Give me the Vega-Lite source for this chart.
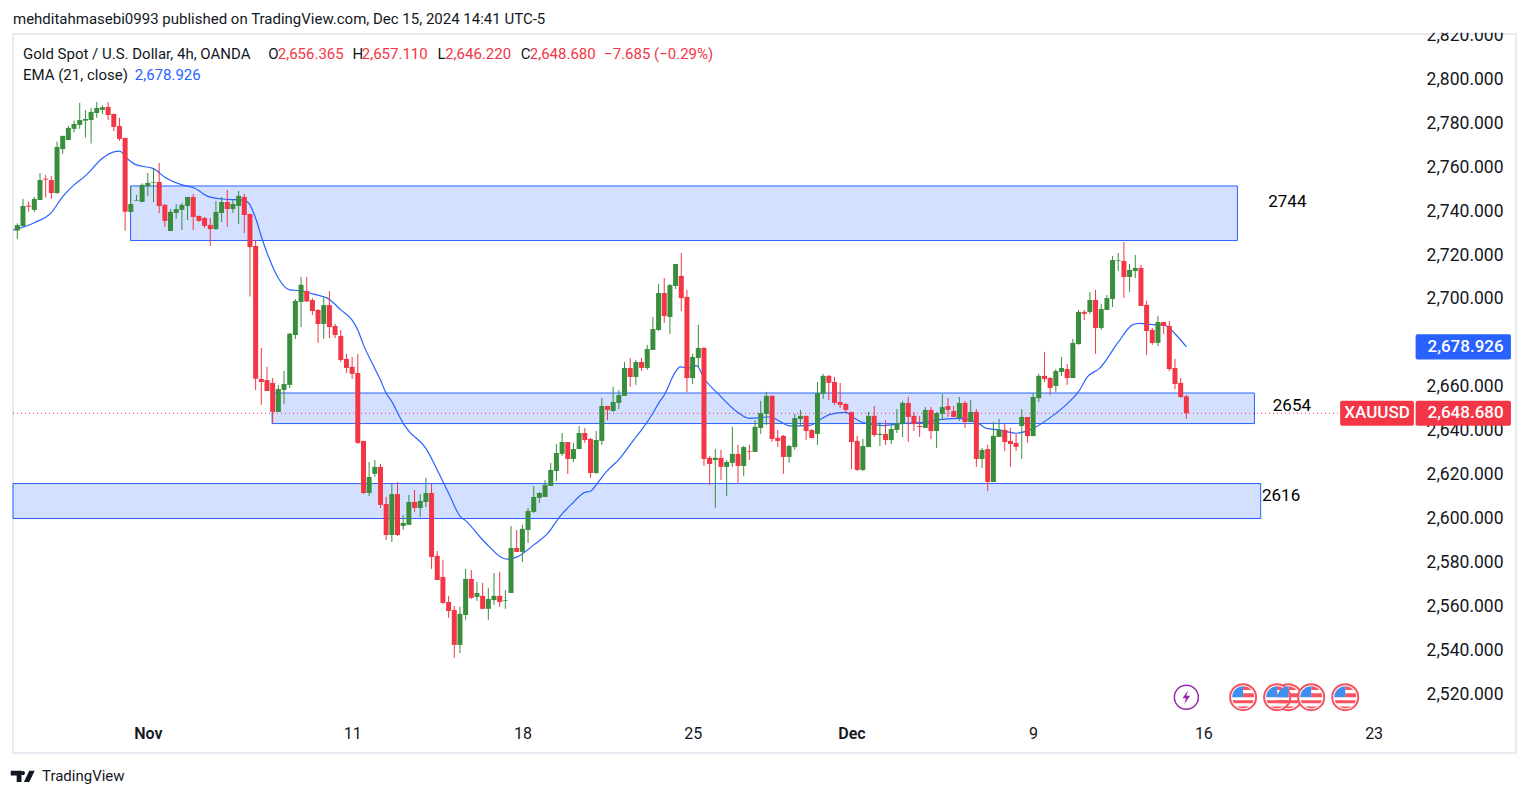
{"$schema":"https://vega.github.io/schema/vega-lite/v6.json","width":1503,"height":719,"autosize":"none","padding":{"left":13,"top":34,"right":13,"bottom":45},"background":"#ffffff","view":{"stroke":"#e9ebf2","strokeWidth":2},
"datasets":{
"candles":[
{"i":0,"d":"up","o":2731.8,"h":2735.1,"l":2728.0,"c":2734.3},{"i":1,"d":"up","o":2733.9,"h":2746.2,"l":2733.6,"c":2743.0},{"i":2,"d":"down","o":2743.2,"h":2745.0,"l":2740.4,"c":2742.7},{"i":3,"d":"up","o":2741.2,"h":2747.1,"l":2740.3,"c":2746.2},{"i":4,"d":"up","o":2745.7,"h":2758.0,"l":2745.7,"c":2754.8},{"i":5,"d":"down","o":2755.4,"h":2757.1,"l":2746.8,"c":2755.0},{"i":6,"d":"down","o":2754.8,"h":2756.7,"l":2746.2,"c":2748.9},{"i":7,"d":"up","o":2748.9,"h":2772.3,"l":2748.5,"c":2769.9},{"i":8,"d":"up","o":2768.9,"h":2774.9,"l":2766.7,"c":2774.9},{"i":9,"d":"up","o":2773.0,"h":2779.4,"l":2773.0,"c":2778.5},
{"i":10,"d":"up","o":2778.1,"h":2781.8,"l":2776.5,"c":2780.3},{"i":11,"d":"up","o":2779.9,"h":2789.9,"l":2778.1,"c":2782.1},{"i":12,"d":"up","o":2781.8,"h":2786.7,"l":2774.1,"c":2782.6},{"i":13,"d":"up","o":2782.1,"h":2787.6,"l":2771.4,"c":2785.8},{"i":14,"d":"up","o":2785.3,"h":2790.3,"l":2783.1,"c":2787.6},{"i":15,"d":"up","o":2786.7,"h":2788.8,"l":2784.9,"c":2787.9},{"i":16,"d":"down","o":2788.1,"h":2790.3,"l":2782.1,"c":2784.4},{"i":17,"d":"down","o":2784.9,"h":2784.9,"l":2777.1,"c":2779.0},{"i":18,"d":"down","o":2779.4,"h":2783.1,"l":2772.6,"c":2773.5},{"i":19,"d":"down","o":2774.0,"h":2774.0,"l":2731.8,"c":2740.4},
{"i":20,"d":"up","o":2740.3,"h":2751.8,"l":2740.3,"c":2743.9},{"i":21,"d":"up","o":2745.4,"h":2748.0,"l":2745.4,"c":2745.7},{"i":22,"d":"up","o":2744.8,"h":2753.3,"l":2744.8,"c":2752.6},{"i":23,"d":"up","o":2752.0,"h":2758.0,"l":2747.6,"c":2753.5},{"i":24,"d":"up","o":2753.6,"h":2760.3,"l":2744.8,"c":2753.9},{"i":25,"d":"down","o":2753.9,"h":2762.6,"l":2739.8,"c":2743.0},{"i":26,"d":"down","o":2743.5,"h":2743.9,"l":2733.4,"c":2736.2},{"i":27,"d":"up","o":2731.6,"h":2741.6,"l":2731.6,"c":2740.3},{"i":28,"d":"up","o":2739.8,"h":2743.9,"l":2737.1,"c":2741.6},{"i":29,"d":"up","o":2741.2,"h":2744.4,"l":2732.1,"c":2743.5},
{"i":30,"d":"up","o":2743.0,"h":2747.1,"l":2736.6,"c":2747.1},{"i":31,"d":"down","o":2747.1,"h":2748.5,"l":2732.1,"c":2738.0},{"i":32,"d":"down","o":2738.5,"h":2738.5,"l":2735.7,"c":2736.2},{"i":33,"d":"down","o":2737.5,"h":2738.0,"l":2733.0,"c":2733.9},{"i":34,"d":"down","o":2734.4,"h":2737.5,"l":2724.8,"c":2732.5},{"i":35,"d":"up","o":2732.5,"h":2745.3,"l":2732.1,"c":2740.3},{"i":36,"d":"up","o":2739.8,"h":2747.1,"l":2735.7,"c":2744.8},{"i":37,"d":"down","o":2744.8,"h":2750.3,"l":2733.4,"c":2741.6},{"i":38,"d":"up","o":2741.6,"h":2745.7,"l":2739.8,"c":2743.9},{"i":39,"d":"up","o":2743.0,"h":2749.8,"l":2734.8,"c":2747.6},
{"i":40,"d":"down","o":2747.1,"h":2748.5,"l":2730.7,"c":2738.9},{"i":41,"d":"down","o":2739.4,"h":2739.4,"l":2701.8,"c":2724.3},{"i":42,"d":"down","o":2724.8,"h":2727.5,"l":2659.3,"c":2664.4},{"i":43,"d":"down","o":2664.3,"h":2678.4,"l":2652.5,"c":2662.9},{"i":44,"d":"down","o":2663.8,"h":2669.8,"l":2658.8,"c":2658.8},{"i":45,"d":"down","o":2662.5,"h":2664.7,"l":2644.0,"c":2649.3},{"i":46,"d":"up","o":2649.3,"h":2661.6,"l":2649.3,"c":2659.7},{"i":47,"d":"up","o":2659.3,"h":2667.9,"l":2652.9,"c":2662.0},{"i":48,"d":"up","o":2661.6,"h":2685.2,"l":2660.2,"c":2684.9},{"i":49,"d":"up","o":2684.3,"h":2700.7,"l":2682.5,"c":2699.8},
{"i":50,"d":"up","o":2699.3,"h":2710.7,"l":2687.9,"c":2707.1},{"i":51,"d":"down","o":2704.3,"h":2710.7,"l":2699.3,"c":2699.6},{"i":52,"d":"down","o":2700.2,"h":2701.1,"l":2693.4,"c":2695.2},{"i":53,"d":"down","o":2695.7,"h":2696.1,"l":2680.7,"c":2689.3},{"i":54,"d":"up","o":2689.3,"h":2701.6,"l":2682.5,"c":2697.9},{"i":55,"d":"down","o":2697.9,"h":2704.3,"l":2682.9,"c":2687.9},{"i":56,"d":"down","o":2688.4,"h":2689.3,"l":2682.9,"c":2684.3},{"i":57,"d":"down","o":2683.9,"h":2686.6,"l":2672.0,"c":2672.9},{"i":58,"d":"down","o":2673.4,"h":2675.7,"l":2667.0,"c":2669.3},{"i":59,"d":"down","o":2669.8,"h":2674.3,"l":2664.3,"c":2666.6},
{"i":60,"d":"down","o":2667.0,"h":2675.7,"l":2634.7,"c":2635.2},{"i":61,"d":"down","o":2636.1,"h":2636.1,"l":2611.9,"c":2612.4},{"i":62,"d":"up","o":2612.4,"h":2626.5,"l":2611.0,"c":2619.7},{"i":63,"d":"up","o":2621.1,"h":2627.4,"l":2619.7,"c":2624.3},{"i":64,"d":"down","o":2624.3,"h":2625.6,"l":2605.6,"c":2607.0},{"i":65,"d":"down","o":2607.4,"h":2610.6,"l":2591.0,"c":2593.3},{"i":66,"d":"up","o":2593.3,"h":2616.5,"l":2590.1,"c":2611.9},{"i":67,"d":"down","o":2611.9,"h":2617.4,"l":2592.9,"c":2593.3},{"i":68,"d":"up","o":2597.4,"h":2602.4,"l":2595.6,"c":2598.8},{"i":69,"d":"up","o":2597.9,"h":2611.5,"l":2597.9,"c":2608.3},
{"i":70,"d":"down","o":2608.3,"h":2613.8,"l":2603.8,"c":2605.6},{"i":71,"d":"up","o":2605.6,"h":2611.9,"l":2601.5,"c":2608.8},{"i":72,"d":"up","o":2608.3,"h":2619.3,"l":2606.0,"c":2612.4},{"i":73,"d":"down","o":2612.4,"h":2616.5,"l":2577.9,"c":2583.3},{"i":74,"d":"down","o":2583.8,"h":2586.0,"l":2572.8,"c":2572.8},{"i":75,"d":"down","o":2574.2,"h":2582.0,"l":2561.9,"c":2562.4},{"i":76,"d":"down","o":2562.8,"h":2565.6,"l":2555.6,"c":2558.7},{"i":77,"d":"down","o":2559.2,"h":2561.0,"l":2537.4,"c":2543.3},{"i":78,"d":"up","o":2543.3,"h":2560.6,"l":2539.6,"c":2557.4},{"i":79,"d":"up","o":2556.9,"h":2577.9,"l":2554.7,"c":2573.3},
{"i":80,"d":"down","o":2573.3,"h":2577.4,"l":2564.2,"c":2564.7},{"i":81,"d":"up","o":2565.1,"h":2571.9,"l":2563.3,"c":2566.9},{"i":82,"d":"down","o":2565.6,"h":2571.5,"l":2559.7,"c":2559.7},{"i":83,"d":"up","o":2559.7,"h":2569.2,"l":2554.7,"c":2564.2},{"i":84,"d":"up","o":2563.7,"h":2576.0,"l":2561.5,"c":2565.6},{"i":85,"d":"down","o":2565.6,"h":2576.5,"l":2560.6,"c":2562.8},{"i":86,"d":"up","o":2563.4,"h":2568.3,"l":2559.7,"c":2563.7},{"i":87,"d":"up","o":2566.9,"h":2597.4,"l":2566.9,"c":2587.4},{"i":88,"d":"down","o":2587.4,"h":2595.6,"l":2585.6,"c":2585.6},{"i":89,"d":"up","o":2585.6,"h":2597.9,"l":2581.0,"c":2596.1},
{"i":90,"d":"up","o":2595.6,"h":2605.6,"l":2589.7,"c":2604.2},{"i":91,"d":"up","o":2603.8,"h":2615.6,"l":2603.3,"c":2610.6},{"i":92,"d":"up","o":2610.2,"h":2612.9,"l":2607.9,"c":2612.4},{"i":93,"d":"up","o":2610.6,"h":2618.3,"l":2610.6,"c":2616.1},{"i":94,"d":"up","o":2615.6,"h":2626.1,"l":2615.6,"c":2622.9},{"i":95,"d":"up","o":2622.4,"h":2634.7,"l":2617.9,"c":2630.6},{"i":96,"d":"up","o":2630.2,"h":2639.7,"l":2629.3,"c":2635.6},{"i":97,"d":"down","o":2635.6,"h":2635.6,"l":2621.1,"c":2627.9},{"i":98,"d":"up","o":2627.9,"h":2635.2,"l":2626.5,"c":2632.4},{"i":99,"d":"up","o":2632.4,"h":2642.9,"l":2632.4,"c":2639.7},
{"i":100,"d":"down","o":2639.7,"h":2642.0,"l":2635.2,"c":2636.5},{"i":101,"d":"down","o":2637.0,"h":2637.5,"l":2619.3,"c":2621.5},{"i":102,"d":"up","o":2621.5,"h":2640.6,"l":2621.1,"c":2636.5},{"i":103,"d":"up","o":2636.1,"h":2655.6,"l":2634.3,"c":2652.0},{"i":104,"d":"down","o":2652.0,"h":2652.0,"l":2645.6,"c":2650.2},{"i":105,"d":"up","o":2649.7,"h":2660.7,"l":2649.3,"c":2653.8},{"i":106,"d":"up","o":2653.4,"h":2659.3,"l":2650.6,"c":2657.0},{"i":107,"d":"up","o":2656.6,"h":2672.0,"l":2656.6,"c":2669.3},{"i":108,"d":"down","o":2669.3,"h":2673.8,"l":2660.7,"c":2665.2},{"i":109,"d":"up","o":2665.2,"h":2672.9,"l":2661.6,"c":2672.0},
{"i":110,"d":"down","o":2672.0,"h":2673.8,"l":2667.9,"c":2669.3},{"i":111,"d":"up","o":2669.3,"h":2679.8,"l":2668.4,"c":2677.9},{"i":112,"d":"up","o":2677.5,"h":2692.5,"l":2677.5,"c":2687.0},{"i":113,"d":"up","o":2686.6,"h":2707.5,"l":2686.1,"c":2703.4},{"i":114,"d":"down","o":2703.4,"h":2710.2,"l":2689.8,"c":2692.9},{"i":115,"d":"up","o":2692.5,"h":2707.5,"l":2684.8,"c":2707.0},{"i":116,"d":"up","o":2706.6,"h":2716.6,"l":2705.2,"c":2716.6},{"i":117,"d":"down","o":2711.2,"h":2721.6,"l":2695.2,"c":2701.1},{"i":118,"d":"down","o":2701.6,"h":2704.8,"l":2658.4,"c":2664.7},{"i":119,"d":"up","o":2664.7,"h":2675.7,"l":2662.0,"c":2674.3},
{"i":120,"d":"up","o":2673.8,"h":2688.9,"l":2669.3,"c":2678.4},{"i":121,"d":"down","o":2678.4,"h":2678.9,"l":2624.7,"c":2627.9},{"i":122,"d":"down","o":2628.4,"h":2629.3,"l":2616.1,"c":2625.6},{"i":123,"d":"up","o":2627.4,"h":2632.4,"l":2605.6,"c":2628.4},{"i":124,"d":"down","o":2628.4,"h":2632.0,"l":2618.3,"c":2624.3},{"i":125,"d":"up","o":2624.3,"h":2627.4,"l":2611.1,"c":2626.5},{"i":126,"d":"up","o":2626.1,"h":2642.5,"l":2624.3,"c":2630.2},{"i":127,"d":"down","o":2630.2,"h":2634.3,"l":2617.0,"c":2624.7},{"i":128,"d":"up","o":2624.7,"h":2633.8,"l":2620.1,"c":2633.3},{"i":129,"d":"down","o":2631.5,"h":2634.3,"l":2627.4,"c":2631.2},
{"i":130,"d":"up","o":2631.1,"h":2645.6,"l":2631.1,"c":2642.5},{"i":131,"d":"up","o":2642.0,"h":2654.3,"l":2639.3,"c":2648.8},{"i":132,"d":"up","o":2648.4,"h":2658.4,"l":2643.4,"c":2656.6},{"i":133,"d":"down","o":2656.6,"h":2657.0,"l":2635.6,"c":2637.0},{"i":134,"d":"down","o":2637.5,"h":2641.1,"l":2633.4,"c":2636.1},{"i":135,"d":"down","o":2638.4,"h":2638.8,"l":2621.1,"c":2628.8},{"i":136,"d":"up","o":2628.8,"h":2634.3,"l":2626.1,"c":2633.8},{"i":137,"d":"up","o":2633.3,"h":2648.4,"l":2632.0,"c":2646.5},{"i":138,"d":"up","o":2646.1,"h":2650.2,"l":2642.9,"c":2647.5},{"i":139,"d":"down","o":2647.5,"h":2647.5,"l":2636.5,"c":2640.6},
{"i":140,"d":"down","o":2641.1,"h":2641.5,"l":2637.4,"c":2637.4},{"i":141,"d":"up","o":2639.3,"h":2662.9,"l":2634.3,"c":2657.8},{"i":142,"d":"up","o":2657.5,"h":2666.6,"l":2655.2,"c":2665.7},{"i":143,"d":"down","o":2665.7,"h":2666.1,"l":2654.7,"c":2662.5},{"i":144,"d":"down","o":2662.9,"h":2665.2,"l":2652.5,"c":2653.4},{"i":145,"d":"down","o":2653.8,"h":2662.5,"l":2651.1,"c":2652.5},{"i":146,"d":"down","o":2652.9,"h":2653.4,"l":2648.8,"c":2650.2},{"i":147,"d":"down","o":2649.3,"h":2649.3,"l":2623.3,"c":2635.6},{"i":148,"d":"down","o":2636.1,"h":2638.4,"l":2622.4,"c":2622.9},{"i":149,"d":"up","o":2622.9,"h":2637.0,"l":2622.4,"c":2633.8},
{"i":150,"d":"up","o":2633.3,"h":2649.3,"l":2633.3,"c":2647.5},{"i":151,"d":"down","o":2647.5,"h":2652.0,"l":2637.9,"c":2638.8},{"i":152,"d":"up","o":2638.8,"h":2644.7,"l":2633.8,"c":2639.3},{"i":153,"d":"down","o":2639.3,"h":2645.6,"l":2634.3,"c":2636.5},{"i":154,"d":"up","o":2636.5,"h":2643.4,"l":2634.7,"c":2641.5},{"i":155,"d":"up","o":2641.1,"h":2650.6,"l":2639.7,"c":2644.1},{"i":156,"d":"up","o":2643.8,"h":2654.3,"l":2637.9,"c":2653.4},{"i":157,"d":"down","o":2653.4,"h":2656.1,"l":2635.6,"c":2647.0},{"i":158,"d":"down","o":2647.5,"h":2649.3,"l":2640.6,"c":2643.8},{"i":159,"d":"down","o":2642.9,"h":2647.5,"l":2637.9,"c":2642.4},
{"i":160,"d":"up","o":2642.0,"h":2651.5,"l":2642.0,"c":2650.2},{"i":161,"d":"down","o":2650.2,"h":2651.5,"l":2637.0,"c":2640.6},{"i":162,"d":"up","o":2640.6,"h":2649.3,"l":2632.9,"c":2648.8},{"i":163,"d":"up","o":2648.4,"h":2657.5,"l":2645.6,"c":2651.5},{"i":164,"d":"down","o":2652.0,"h":2655.6,"l":2647.0,"c":2650.2},{"i":165,"d":"down","o":2649.7,"h":2652.0,"l":2647.0,"c":2647.0},{"i":166,"d":"up","o":2646.5,"h":2656.1,"l":2645.2,"c":2653.4},{"i":167,"d":"down","o":2653.4,"h":2654.3,"l":2642.0,"c":2644.7},{"i":168,"d":"up","o":2644.7,"h":2654.7,"l":2644.7,"c":2649.3},{"i":169,"d":"down","o":2649.3,"h":2650.6,"l":2624.3,"c":2627.9},
{"i":170,"d":"up","o":2627.9,"h":2632.9,"l":2623.8,"c":2632.0},{"i":171,"d":"down","o":2632.4,"h":2634.3,"l":2613.3,"c":2617.4},{"i":172,"d":"up","o":2617.4,"h":2644.7,"l":2617.4,"c":2638.4},{"i":173,"d":"up","o":2637.9,"h":2646.1,"l":2637.9,"c":2641.1},{"i":174,"d":"down","o":2641.1,"h":2643.8,"l":2631.5,"c":2635.6},{"i":175,"d":"down","o":2636.1,"h":2642.0,"l":2624.3,"c":2634.7},{"i":176,"d":"down","o":2635.2,"h":2639.3,"l":2631.5,"c":2633.4},{"i":177,"d":"up","o":2642.9,"h":2650.6,"l":2627.9,"c":2647.0},{"i":178,"d":"down","o":2647.0,"h":2647.0,"l":2635.2,"c":2638.3},{"i":179,"d":"up","o":2638.3,"h":2657.9,"l":2638.3,"c":2656.1},
{"i":180,"d":"up","o":2655.6,"h":2666.6,"l":2653.8,"c":2665.7},{"i":181,"d":"down","o":2665.7,"h":2676.6,"l":2662.9,"c":2664.3},{"i":182,"d":"down","o":2664.7,"h":2665.2,"l":2657.0,"c":2660.2},{"i":183,"d":"up","o":2661.1,"h":2668.8,"l":2658.4,"c":2667.9},{"i":184,"d":"up","o":2667.5,"h":2674.3,"l":2665.7,"c":2669.3},{"i":185,"d":"down","o":2668.8,"h":2671.1,"l":2661.6,"c":2664.7},{"i":186,"d":"up","o":2664.7,"h":2682.5,"l":2664.7,"c":2680.7},{"i":187,"d":"up","o":2680.2,"h":2695.7,"l":2679.8,"c":2694.8},{"i":188,"d":"down","o":2694.8,"h":2695.7,"l":2691.1,"c":2693.9},{"i":189,"d":"up","o":2694.8,"h":2703.9,"l":2693.9,"c":2700.2},
{"i":190,"d":"down","o":2700.2,"h":2704.8,"l":2675.7,"c":2687.5},{"i":191,"d":"up","o":2687.5,"h":2698.4,"l":2686.6,"c":2696.1},{"i":192,"d":"up","o":2695.7,"h":2702.5,"l":2695.7,"c":2701.1},{"i":193,"d":"up","o":2700.7,"h":2720.2,"l":2697.0,"c":2718.4},{"i":194,"d":"up","o":2718.1,"h":2721.6,"l":2713.4,"c":2718.4},{"i":195,"d":"down","o":2718.0,"h":2726.6,"l":2701.1,"c":2710.7},{"i":196,"d":"up","o":2710.7,"h":2716.6,"l":2703.9,"c":2713.9},{"i":197,"d":"up","o":2713.4,"h":2720.7,"l":2710.2,"c":2714.8},{"i":198,"d":"down","o":2714.8,"h":2716.2,"l":2697.5,"c":2697.5},{"i":199,"d":"down","o":2698.0,"h":2699.8,"l":2675.2,"c":2686.1},
{"i":200,"d":"down","o":2686.6,"h":2687.5,"l":2679.8,"c":2680.7},{"i":201,"d":"up","o":2680.7,"h":2693.0,"l":2679.3,"c":2690.2},{"i":202,"d":"down","o":2690.2,"h":2690.2,"l":2684.8,"c":2688.4},{"i":203,"d":"down","o":2688.4,"h":2690.7,"l":2667.9,"c":2668.8},{"i":204,"d":"down","o":2669.3,"h":2673.4,"l":2659.7,"c":2662.0},{"i":205,"d":"down","o":2662.5,"h":2664.7,"l":2655.6,"c":2656.1},{"i":206,"d":"down","o":2656.365,"h":2657.11,"l":2646.22,"c":2648.68}],
"ema":[{"i":-0.7,"v":2732.1},{"i":3,"v":2735.4},{"i":6,"v":2740.0},{"i":8,"v":2747.3},{"i":10,"v":2752.6},{"i":12,"v":2756.7},{"i":15,"v":2764.7},{"i":17,"v":2767.6},{"i":18,"v":2768.0},{"i":19.5,"v":2764.3},{"i":21,"v":2761.7},{"i":24,"v":2760.0},{"i":26,"v":2756.1},{"i":29,"v":2752.6},{"i":31,"v":2751.4},{"i":34,"v":2747.0},{"i":37,"v":2746.0},{"i":40,"v":2745.7},{"i":41,"v":2743.5},{"i":42,"v":2737.4},{"i":43.2,"v":2727.5},{"i":44.5,"v":2718.4},{"i":46,"v":2710.1},{"i":48,"v":2704.8},{"i":50,"v":2704.5},{"i":52,"v":2703.0},{"i":55,"v":2700.5},{"i":57,"v":2695.7},{"i":59,"v":2691.1},{"i":60,"v":2686.6},{"i":61,"v":2679.8},{"i":63,"v":2669.1},{"i":64,"v":2663.8},{"i":65,"v":2657.8},{"i":66,"v":2654.0},{"i":68,"v":2644.1},{"i":69,"v":2640.6},{"i":72,"v":2632.7},{"i":74,"v":2622.9},{"i":76,"v":2612.3},{"i":78,"v":2601.9},{"i":79.2,"v":2599.4},{"i":81.5,"v":2592.5},{"i":83.2,"v":2587.9},{"i":85.6,"v":2582.7},{"i":86.5,"v":2582.3},{"i":88,"v":2583.2},{"i":91,"v":2588.8},{"i":93.5,"v":2594.1},{"i":95.6,"v":2601.7},{"i":97.7,"v":2607.4},{"i":100,"v":2612.7},{"i":101,"v":2613.2},{"i":102,"v":2616.1},{"i":103.8,"v":2622.1},{"i":106.2,"v":2628.2},{"i":108.6,"v":2636.5},{"i":110,"v":2641.1},{"i":112,"v":2648.7},{"i":113,"v":2653.2},{"i":114,"v":2657.0},{"i":116,"v":2667.6},{"i":116.8,"v":2669.8},{"i":118.6,"v":2669.3},{"i":119.7,"v":2670.4},{"i":121,"v":2664.6},{"i":123.6,"v":2657.3},{"i":126.8,"v":2649.4},{"i":129,"v":2646.4},{"i":131,"v":2646.7},{"i":132.7,"v":2647.1},{"i":134.4,"v":2644.9},{"i":136.2,"v":2642.9},{"i":139.7,"v":2643.2},{"i":141.4,"v":2645.6},{"i":143.2,"v":2648.2},{"i":146,"v":2649.1},{"i":147.3,"v":2646.8},{"i":149,"v":2644.4},{"i":152.6,"v":2643.1},{"i":156.1,"v":2644.1},{"i":159,"v":2644.4},{"i":163,"v":2645.9},{"i":166,"v":2646.4},{"i":169,"v":2644.7},{"i":170.8,"v":2641.8},{"i":173,"v":2641.1},{"i":176,"v":2639.6},{"i":179,"v":2641.8},{"i":182,"v":2646.7},{"i":184.8,"v":2652.5},{"i":187,"v":2658.5},{"i":188.6,"v":2665.3},{"i":190.7,"v":2669.1},{"i":194,"v":2681.0},{"i":196.5,"v":2688.9},{"i":197.7,"v":2689.6},{"i":200.7,"v":2688.9},{"i":202,"v":2688.9},{"i":204.2,"v":2684.3},{"i":206,"v":2678.926}]
},
"layer":[
{"data":{"values":[{"a":19.95,"b":215,"p":2752.1,"q":2727.3},{"a":44.9,"b":218,"p":2657.9,"q":2644.0},{"a":-0.76,"b":219.1,"p":2616.7,"q":2600.8}]},"mark":{"type":"rect","fill":"#d4e0ff","stroke":"#2962ff","strokeWidth":1},"encoding":{"x":{"field":"a","type":"quantitative","title":null,"scale":{"domain":[-0.758,264.09],"nice":false,"zero":false,"padding":0},"axis":{"title":null,"orient":"bottom","values":[23,59,89,119,147,179,209,239],"labelExpr":"({23:'Nov',59:'11',89:'18',119:'25',147:'Dec',179:'9',209:'16',239:'23'})[datum.value]","grid":false,"domain":false,"ticks":false,"labelPadding":-28,"labelFont":"Roboto","labelFontSize":16,"labelColor":"#131722","labelAngle":0,"labelFlush":false,"labelBound":false,"labelOverlap":false,"labelFontWeight":{"condition":{"test":"datum.value==23||datum.value==147","value":600},"value":400}}},"x2":{"field":"b"},"y":{"field":"p","type":"quantitative","title":null,"scale":{"domain":[2494.1,2821.25],"nice":false,"zero":false},"axis":{"title":null,"orient":"right","values":[2520,2540,2560,2580,2600,2620,2640,2660,2700,2720,2740,2760,2780,2800,2820],"format":",.3f","grid":false,"domain":false,"ticks":false,"labelAlign":"right","labelPadding":-13,"labelOffset":-1.5,"labelFont":"Roboto","labelFontSize":17.5,"labelColor":"#131722","labelFlush":false,"labelBound":false,"labelOverlap":false}},"y2":{"field":"q"}}},
{"data":{"values":[{"a":-0.76,"b":233.1,"p":2648.68}]},"mark":{"type":"rule","stroke":"#f23645","strokeWidth":1,"strokeDash":[1,3]},"encoding":{"x":{"field":"a","type":"quantitative","scale":{"domain":[-0.758,264.09],"nice":false,"zero":false,"padding":0}},"x2":{"field":"b"},"y":{"field":"p","type":"quantitative","scale":{"domain":[2494.1,2821.25],"nice":false,"zero":false}}}},
{"data":{"name":"ema"},"mark":{"type":"line","stroke":"#2962ff","strokeWidth":1.2,"interpolate":"monotone"},"encoding":{"x":{"field":"i","type":"quantitative","scale":{"domain":[-0.758,264.09],"nice":false,"zero":false,"padding":0}},"y":{"field":"v","type":"quantitative","scale":{"domain":[2494.1,2821.25],"nice":false,"zero":false}}}},
{"data":{"name":"candles"},"mark":{"type":"rule","strokeWidth":1},"encoding":{"x":{"field":"i","type":"quantitative","scale":{"domain":[-0.758,264.09],"nice":false,"zero":false,"padding":0}},"y":{"field":"l","type":"quantitative","scale":{"domain":[2494.1,2821.25],"nice":false,"zero":false}},"y2":{"field":"h"},"color":{"field":"d","type":"nominal","legend":null,"scale":{"domain":["up","down"],"range":["#388e3c","#f23645"]}}}},
{"data":{"name":"candles"},"mark":{"type":"bar","size":5},"encoding":{"x":{"field":"i","type":"quantitative","scale":{"domain":[-0.758,264.09],"nice":false,"zero":false,"padding":0}},"y":{"field":"o","type":"quantitative","scale":{"domain":[2494.1,2821.25],"nice":false,"zero":false}},"y2":{"field":"c"},"color":{"field":"d","type":"nominal","legend":null,"scale":{"domain":["up","down"],"range":["#388e3c","#f23645"]}}}},
{"data":{"values":[{"a":246.4,"b":263.2,"p":2684.6,"q":2673.2}]},"mark":{"type":"rect","fill":"#2962ff","cornerRadius":2},"encoding":{"x":{"field":"a","type":"quantitative","scale":{"domain":[-0.758,264.09],"nice":false,"zero":false,"padding":0}},"x2":{"field":"b"},"y":{"field":"p","type":"quantitative","scale":{"domain":[2494.1,2821.25],"nice":false,"zero":false}},"y2":{"field":"q"}}},
{"data":{"values":[{"a":233.1,"b":246.1,"p":2654.4,"q":2643.0},{"a":246.4,"b":263.2,"p":2654.4,"q":2643.0}]},"mark":{"type":"rect","fill":"#f23645","cornerRadius":2},"encoding":{"x":{"field":"a","type":"quantitative","scale":{"domain":[-0.758,264.09],"nice":false,"zero":false,"padding":0}},"x2":{"field":"b"},"y":{"field":"p","type":"quantitative","scale":{"domain":[2494.1,2821.25],"nice":false,"zero":false}},"y2":{"field":"q"}}},
{"data":{"values":[{"a":246,"b":264,"p":2821.8,"q":2832}]},"mark":{"type":"rect","fill":"#ffffff"},"encoding":{"x":{"field":"a","type":"quantitative","scale":{"domain":[-0.758,264.09],"nice":false,"zero":false,"padding":0}},"x2":{"field":"b"},"y":{"field":"p","type":"quantitative","scale":{"domain":[2494.1,2821.25],"nice":false,"zero":false}},"y2":{"field":"q"}}},
{"data":{"values":[{"t":"2,678.926","i":255.2,"p":2678.926},{"t":"2,648.680","i":255.2,"p":2648.68},{"t":"XAUUSD","i":239.6,"p":2648.68}]},"mark":{"type":"text","font":"Roboto","fontSize":17,"fontWeight":500,"fill":"#ffffff","align":"center","baseline":"middle"},"encoding":{"text":{"field":"t"},"x":{"field":"i","type":"quantitative","scale":{"domain":[-0.758,264.09],"nice":false,"zero":false,"padding":0}},"y":{"field":"p","type":"quantitative","scale":{"domain":[2494.1,2821.25],"nice":false,"zero":false}}}},
{"data":{"values":[{"t":"2744","i":223.8,"p":2745.0},{"t":"2654","i":224.6,"p":2652.2},{"t":"2616","i":222.7,"p":2611.1}]},"mark":{"type":"text","font":"Roboto","fontSize":17,"fill":"#000000","align":"center","baseline":"middle"},"encoding":{"text":{"field":"t"},"x":{"field":"i","type":"quantitative","scale":{"domain":[-0.758,264.09],"nice":false,"zero":false,"padding":0}},"y":{"field":"p","type":"quantitative","scale":{"domain":[2494.1,2821.25],"nice":false,"zero":false}}}},
{"data":{"values":[{"t":"mehditahmasebi0993 published on TradingView.com, Dec 15, 2024 14:41 UTC-5","i":-0.76,"p":2828.1},{"t":"Gold Spot / U.S. Dollar, 4h, OANDA","i":1,"p":2812.15},{"t":"O","i":44.2,"p":2812.15},{"t":"H","i":59.05,"p":2812.15},{"t":"L","i":74.05,"p":2812.15},{"t":"C","i":88.7,"p":2812.15},{"t":"EMA (21, close)","i":1,"p":2802.6},{"t":"TradingView","i":4.35,"p":2483.6}]},"mark":{"type":"text","font":"Roboto","fontSize":15,"fill":"#131722","align":"left","baseline":"middle"},"encoding":{"text":{"field":"t"},"x":{"field":"i","type":"quantitative","scale":{"domain":[-0.758,264.09],"nice":false,"zero":false,"padding":0}},"y":{"field":"p","type":"quantitative","scale":{"domain":[2494.1,2821.25],"nice":false,"zero":false}}}},
{"data":{"values":[{"t":"2,656.365","i":45.9,"p":2812.15},{"t":"2,657.110","i":60.7,"p":2812.15},{"t":"2,646.220","i":75.4,"p":2812.15},{"t":"2,648.680","i":90.3,"p":2812.15},{"t":"−7.685 (−0.29%)","i":103.4,"p":2812.15}]},"mark":{"type":"text","font":"Roboto","fontSize":15,"fill":"#f23645","align":"left","baseline":"middle"},"encoding":{"text":{"field":"t"},"x":{"field":"i","type":"quantitative","scale":{"domain":[-0.758,264.09],"nice":false,"zero":false,"padding":0}},"y":{"field":"p","type":"quantitative","scale":{"domain":[2494.1,2821.25],"nice":false,"zero":false}}}},
{"data":{"values":[{"t":"2,678.926","i":20.7,"p":2802.6}]},"mark":{"type":"text","font":"Roboto","fontSize":15,"fill":"#2962ff","align":"left","baseline":"middle"},"encoding":{"text":{"field":"t"},"x":{"field":"i","type":"quantitative","scale":{"domain":[-0.758,264.09],"nice":false,"zero":false,"padding":0}},"y":{"field":"p","type":"quantitative","scale":{"domain":[2494.1,2821.25],"nice":false,"zero":false}}}},
{"data":{"values":[{"i":0.95,"p":2483.6}]},"mark":{"type":"point","filled":true,"fill":"#131722","opacity":1,"size":576,"shape":"M-1 -0.45 H-0.1 V0.5 H-0.5 V-0.05 H-1 Z M0.02 -0.42 A0.17 0.17 0 1 1 0.02 -0.08 A0.17 0.17 0 1 1 0.02 -0.42 Z M0.55 -0.45 H1 L0.55 0.5 H0.1 Z"},"encoding":{"x":{"field":"i","type":"quantitative","scale":{"domain":[-0.758,264.09],"nice":false,"zero":false,"padding":0}},"y":{"field":"p","type":"quantitative","scale":{"domain":[2494.1,2821.25],"nice":false,"zero":false}}}},
{"data":{"values":[{"i":206,"p":2519.5}]},"mark":{"type":"point","filled":false,"stroke":"#9c27b0","strokeWidth":1.5,"fill":"#ffffff","fillOpacity":1,"opacity":1,"size":576,"shape":"circle"},"encoding":{"x":{"field":"i","type":"quantitative","scale":{"domain":[-0.758,264.09],"nice":false,"zero":false,"padding":0}},"y":{"field":"p","type":"quantitative","scale":{"domain":[2494.1,2821.25],"nice":false,"zero":false}}}},
{"data":{"values":[{"i":206,"p":2519.5}]},"mark":{"type":"point","filled":true,"fill":"#9c27b0","opacity":1,"size":196,"shape":"M0.25 -1 L-0.55 0.15 H-0.05 L-0.3 1 L0.55 -0.2 H0.02 Z"},"encoding":{"x":{"field":"i","type":"quantitative","scale":{"domain":[-0.758,264.09],"nice":false,"zero":false,"padding":0}},"y":{"field":"p","type":"quantitative","scale":{"domain":[2494.1,2821.25],"nice":false,"zero":false}}}},
{"data":{"values":[{"i":224,"p":2519.5},{"i":216,"p":2519.5},{"i":222,"p":2519.5},{"i":228,"p":2519.5},{"i":234,"p":2519.5}]},"layer":[
{"mark":{"type":"point","filled":false,"stroke":"#f7525f","strokeWidth":2,"fill":"#ffffff","fillOpacity":1,"opacity":1,"size":676,"shape":"circle"},"encoding":{"x":{"field":"i","type":"quantitative","scale":{"domain":[-0.758,264.09],"nice":false,"zero":false,"padding":0}},"y":{"field":"p","type":"quantitative","scale":{"domain":[2494.1,2821.25],"nice":false,"zero":false}}}},
{"mark":{"type":"point","filled":true,"fill":"#f7525f","opacity":1,"size":484,"shape":"M0 -1 A1 1 0 0 1 0.75 -0.66 L0 -0.66 Z M0 -0.36 H0.94 A1 1 0 0 1 1 0 L0 0 Z M-0.96 0.28 H0.96 A1 1 0 0 1 0.84 0.55 H-0.84 A1 1 0 0 1 -0.96 0.28 Z M-0.55 0.84 H0.55 A1 1 0 0 1 0 1 A1 1 0 0 1 -0.55 0.84 Z"},"encoding":{"x":{"field":"i","type":"quantitative","scale":{"domain":[-0.758,264.09],"nice":false,"zero":false,"padding":0}},"y":{"field":"p","type":"quantitative","scale":{"domain":[2494.1,2821.25],"nice":false,"zero":false}}}},
{"mark":{"type":"point","filled":true,"fill":"#3f8ff0","opacity":1,"size":484,"shape":"M-1 0 A1 1 0 0 1 0 -1 L0 0 Z"},"encoding":{"x":{"field":"i","type":"quantitative","scale":{"domain":[-0.758,264.09],"nice":false,"zero":false,"padding":0}},"y":{"field":"p","type":"quantitative","scale":{"domain":[2494.1,2821.25],"nice":false,"zero":false}}}}
]}
]}
